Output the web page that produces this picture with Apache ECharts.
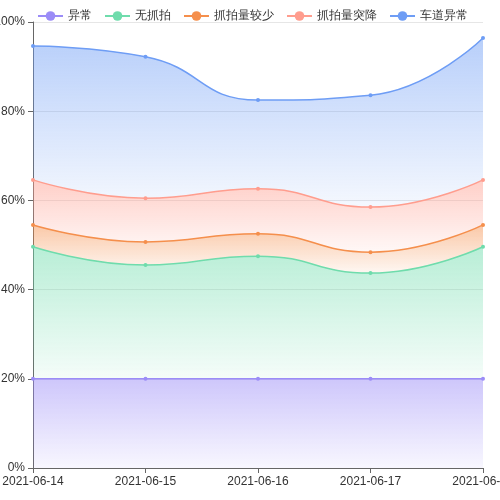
<!DOCTYPE html>
<html>
<head>
<meta charset="utf-8">
<script src="https://cdn.jsdelivr.net/npm/echarts@6/dist/echarts.min.js"></script>
<style>html,body{margin:0;padding:0;background:#fff}#main{width:500px;height:500px}</style>
</head>
<body>
<div id="main"></div>
<script>
var dates = ["2021-06-14", "2021-06-15", "2021-06-16", "2021-06-17", "2021-06-18"];
var names = ["异常", "无抓拍", "抓拍量较少", "抓拍量突降", "车道异常"];
var yichang = [20, 20, 20, 20, 20];
var wuzhuapai = [29.6, 25.5, 27.5, 23.7, 29.6];
var jiaoshao = [4.9, 5.2, 5.0, 4.7, 4.9];
var tujiang = [10.1, 9.8, 10.1, 10.1, 10.1];
var chedao = [30.0, 31.7, 19.9, 25.1, 31.8];
var seriesData = [yichang, wuzhuapai, jiaoshao, tujiang, chedao];
var colors = ["#9b8cf7", "#6fdcac", "#f58f4c", "#ff9d8e", "#6e9df5"];

var myChart = echarts.init(document.getElementById("main"));
var series = [];
for (var i = 0; i < names.length; i++) {
    series.push({
        name: names[i],
        type: "line",
        stack: "total",
        smooth: true,
        symbol: "circle",
        symbolSize: 4,
        showSymbol: true,
        lineStyle: { width: 1.5, color: colors[i] },
        itemStyle: { color: colors[i] },
        areaStyle: {
            color: new echarts.graphic.LinearGradient(0, 0, 0, 1, [
                { offset: 0, color: echarts.color.modifyAlpha(colors[i], 0.7) },
                { offset: 1, color: echarts.color.modifyAlpha(colors[i], 0.1) }
            ])
        },
        data: seriesData[i]
    });
}
myChart.setOption({
    animation: false,
    legend: {
        top: 5,
        left: 32,
        itemWidth: 25,
        itemHeight: 12,
        itemGap: 12,
        textStyle: { fontSize: 12, color: "#333" },
        data: names
    },
    grid: { left: 33, right: 17, top: 22, bottom: 32, containLabel: false, outerBoundsMode: "none" },
    xAxis: {
        type: "category",
        boundaryGap: false,
        data: dates,
        axisLine: { lineStyle: { color: "#666" } },
        axisTick: { show: true },
        axisLabel: { color: "#333", fontSize: 12 }
    },
    yAxis: {
        type: "value",
        min: 0,
        max: 100,
        interval: 20,
        axisLine: { show: true, lineStyle: { color: "#666" } },
        axisTick: { show: true },
        axisLabel: { formatter: "{value}%", color: "#333", fontSize: 12 },
        splitLine: { lineStyle: { color: "#e6e6e6" } }
    },
    series: series
});
</script>
</body>
</html>
